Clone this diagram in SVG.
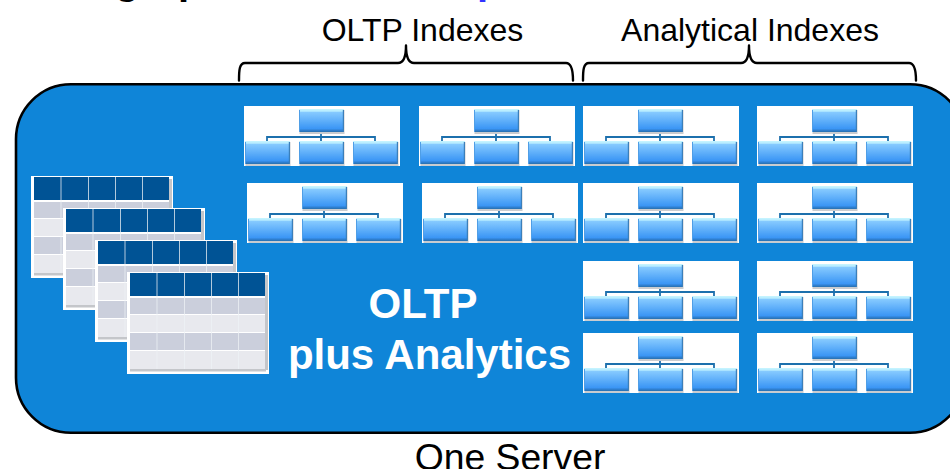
<svg xmlns="http://www.w3.org/2000/svg" xmlns:xlink="http://www.w3.org/1999/xlink" width="950" height="469" viewBox="0 0 950 469">
<style>
text{font-family:"Liberation Sans",Arial,sans-serif}
.lbl{font-size:32px;fill:#000;text-anchor:middle}
.srv{font-size:37.300px;fill:#000;text-anchor:middle}
.big{font-size:42px;font-weight:bold;fill:#fff;text-anchor:middle}
.ttl{font-size:40px;font-weight:bold}
.brace{fill:none;stroke:#000;stroke-width:2.4;stroke-linecap:round;stroke-linejoin:round}
.hd{fill:#025395}
.r1{fill:#cbcfdc}
.r2{fill:#e8e9ee}
.sep{stroke:#eef1f6;stroke-width:1;fill:none;opacity:.75}
.conn{fill:none;stroke:#1f70ad;stroke-width:1.8}
.soft{filter:url(#soft)}
</style>
<defs>
<filter id="soft" x="-2%" y="-2%" width="104%" height="104%"><feGaussianBlur stdDeviation="0.45"/></filter>
<linearGradient id="bx" x1="0" y1="0" x2="0" y2="1">
<stop offset="0" stop-color="#c8f6ff"/>
<stop offset=".1" stop-color="#b4eaff"/>
<stop offset=".14" stop-color="#86caff"/>
<stop offset=".85" stop-color="#3b96f5"/>
<stop offset=".93" stop-color="#2f7fd0"/>
<stop offset="1" stop-color="#2a6fae"/>
</linearGradient>
<g id="box">
<rect x="0.5" y="1" width="45" height="24" fill="#c9ccd0"/>
<rect width="45" height="23" fill="url(#bx)"/>
<rect x="43.800" y="1" width="1.200" height="22" fill="#3a7fba"/>
<rect x="0" y="1" width="1" height="22" fill="#4f9ee6"/>
</g>
<g id="idx">
<path class="conn" d="M23 35V31H131V35M77 26V35"/>
<use xlink:href="#box" href="#box" x="55" y="3"/>
<use xlink:href="#box" href="#box" x="1" y="35"/>
<use xlink:href="#box" href="#box" x="55" y="35"/>
<use xlink:href="#box" href="#box" x="109" y="35"/>
</g>
<g id="idxf">
<rect width="156" height="60" fill="#fff"/>
<use xlink:href="#idx" href="#idx" class="soft"/>
</g>
<g id="tbl">
<rect width="142" height="102" fill="#fff"/>
<g class="soft">
<rect x="138" y="3" width="3" height="95" fill="#c4c6ca"/>
<rect x="3" y="97" width="136" height="2.500" fill="#c4c6ca"/>
<rect x="3" y="1" width="135" height="23" class="hd"/>
<rect x="3" y="26" width="135" height="16" class="r1"/>
<rect x="3" y="43" width="135" height="17" class="r2"/>
<rect x="3" y="61" width="135" height="17" class="r1"/>
<rect x="3" y="79" width="135" height="18" class="r2"/>
<path class="sep" d="M30 1V97M57.500 1V97M84.500 1V97M111.500 1V97"/>
</g>
</g>
</defs>
<g id="title-fragment">
<text class="ttl" x="115" y="-6" fill="#000">g</text>
<text class="ttl" x="178" y="-6" fill="#000">p</text>
<text class="ttl" x="477" y="-6" fill="#3333ff">p</text>
</g>
<g id="server">
<rect x="16" y="84.300" width="949" height="348.500" rx="55" ry="55" fill="#0f85d8" stroke="#000" stroke-width="2.600"/>
<text class="big" x="423" y="318">OLTP</text>
<text class="big" x="429.500" y="369">plus Analytics</text>
</g>
<g id="connectors">
<path class="brace" d="M239 80.500C239 70 239.500 63 245 63H398C403 63 406 58 406 45.500C406 58 409 63 414 63H566C571.500 63 573 70 573 80.500"/>
<path class="brace" d="M583 80.500C583 70 583.500 63 589 63H741C746 63 749 58 749 45.500C749 58 752 63 757 63H909C914.500 63 916 70 916 80.500"/>
</g>
<g id="label-oltp"><text class="lbl" x="422.500" y="41">OLTP Indexes</text></g>
<g id="label-analytical"><text class="lbl" x="750" y="41">Analytical Indexes</text></g>
<g id="label-server"><text class="srv" x="510" y="470">One Server</text></g>
<g id="table-1"><use xlink:href="#tbl" href="#tbl" x="31" y="176"/></g>
<g id="table-2"><use xlink:href="#tbl" href="#tbl" x="63" y="208"/></g>
<g id="table-3"><use xlink:href="#tbl" href="#tbl" x="95" y="240"/></g>
<g id="table-4"><use xlink:href="#tbl" href="#tbl" x="127" y="272"/></g>
<g id="oltp-index-1"><use xlink:href="#idxf" href="#idxf" x="244" y="106"/></g>
<g id="oltp-index-2"><use xlink:href="#idxf" href="#idxf" x="419" y="106"/></g>
<g id="oltp-index-3"><use xlink:href="#idxf" href="#idxf" x="247" y="183"/></g>
<g id="oltp-index-4"><use xlink:href="#idxf" href="#idxf" x="422" y="183"/></g>
<g id="analytical-index-1"><use xlink:href="#idxf" href="#idxf" x="583" y="106"/></g>
<g id="analytical-index-2"><use xlink:href="#idxf" href="#idxf" x="757" y="106"/></g>
<g id="analytical-index-3"><use xlink:href="#idxf" href="#idxf" x="583" y="183"/></g>
<g id="analytical-index-4"><use xlink:href="#idxf" href="#idxf" x="757" y="183"/></g>
<g id="analytical-index-5"><use xlink:href="#idxf" href="#idxf" x="583" y="261"/></g>
<g id="analytical-index-6"><use xlink:href="#idxf" href="#idxf" x="757" y="261"/></g>
<g id="analytical-index-7"><use xlink:href="#idxf" href="#idxf" x="583" y="333"/></g>
<g id="analytical-index-8"><use xlink:href="#idxf" href="#idxf" x="757" y="333"/></g>
</svg>
